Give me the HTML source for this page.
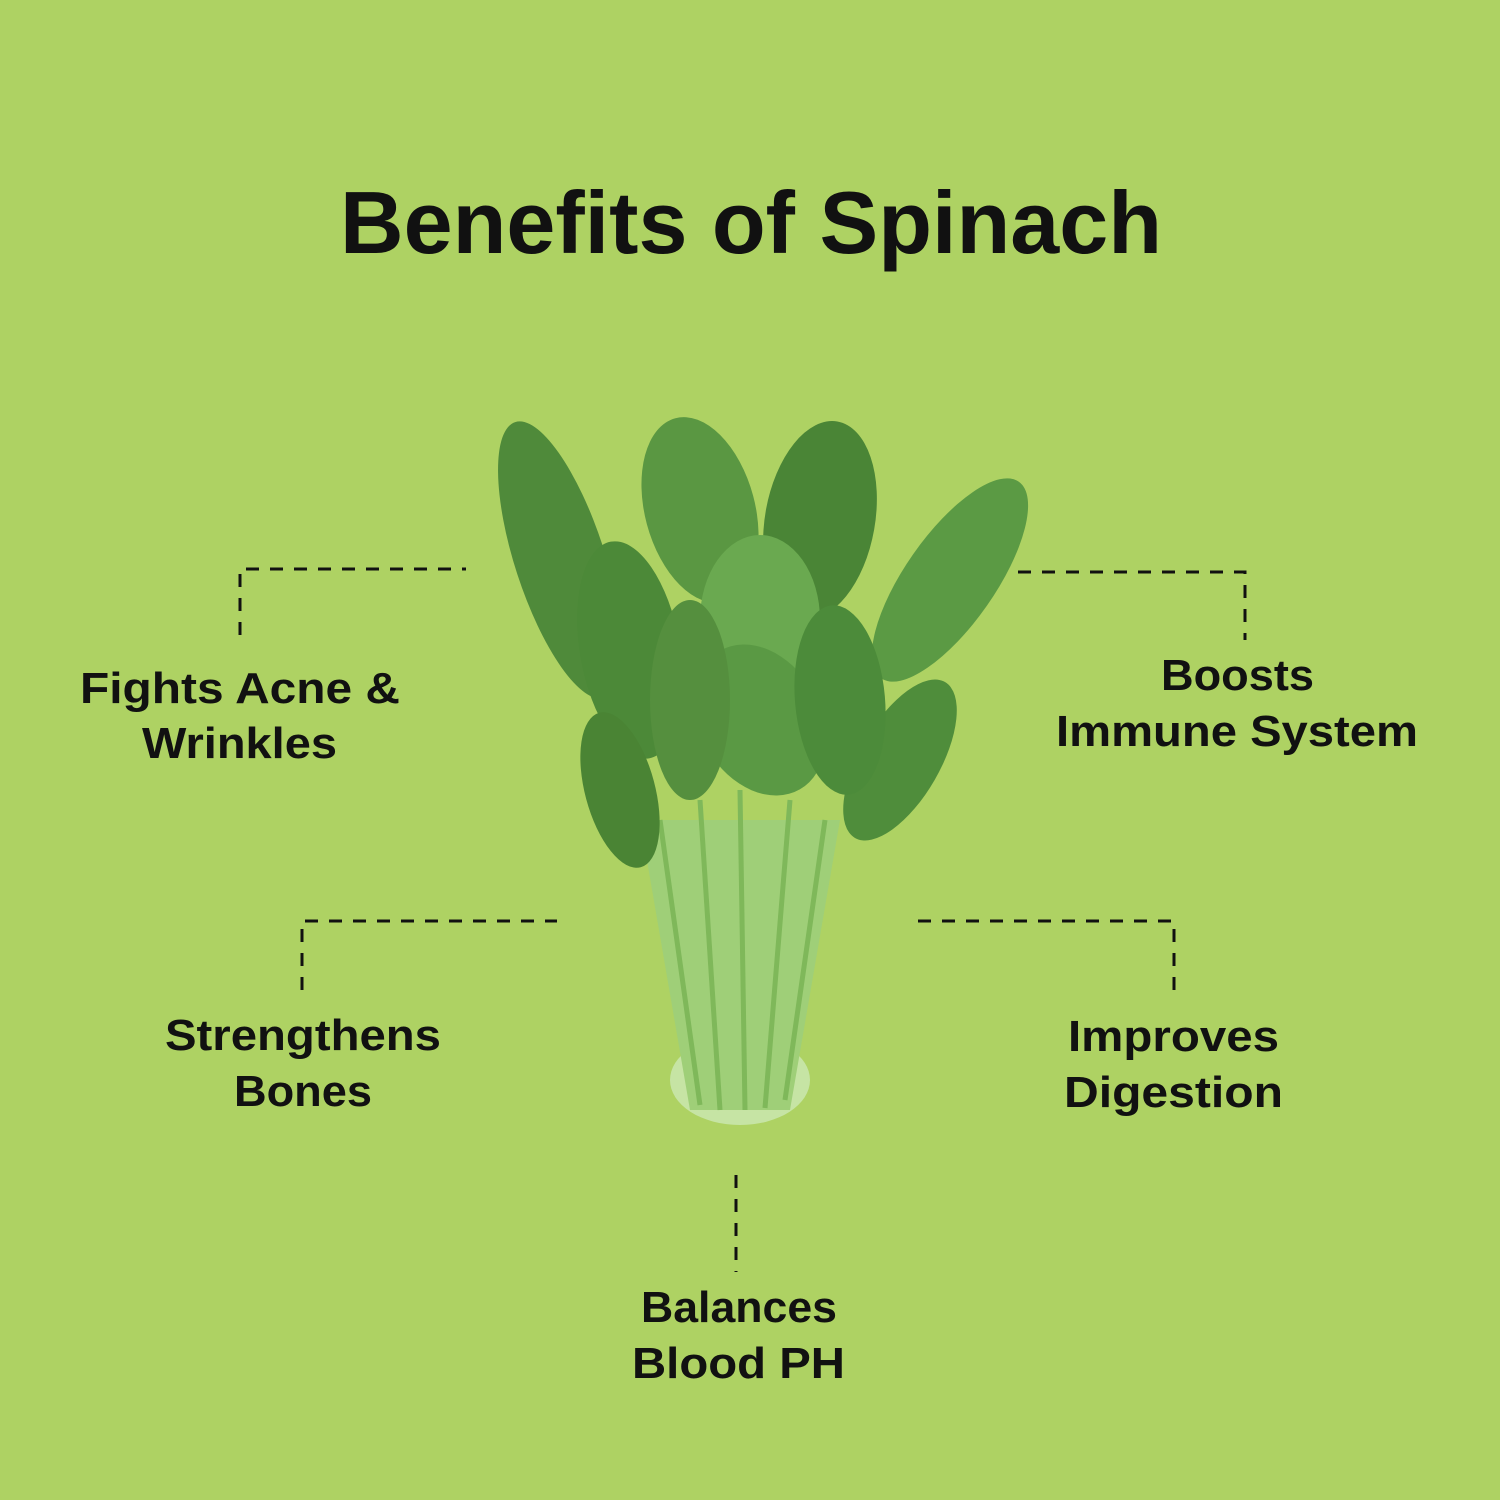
<!DOCTYPE html>
<html><head><meta charset="utf-8"><style>
html,body{margin:0;padding:0;background:#aed263;}
svg{display:block}
text{font-family:"Liberation Sans",sans-serif;font-weight:bold;fill:#111;}
</style></head><body>
<svg width="1500" height="1500" viewBox="0 0 1500 1500" xmlns="http://www.w3.org/2000/svg">
<rect width="1500" height="1500" fill="#aed263"/>
<text x="340" y="253" font-size="88" textLength="822" lengthAdjust="spacingAndGlyphs">Benefits of Spinach</text>

<g fill="none" stroke="#111" stroke-width="3" stroke-dasharray="13 11">
<path d="M240 635 V569 H466"/>
<path d="M1018 572 H1245 V640"/>
<path d="M302 990 V921 H557"/>
<path d="M918 921 H1174 V990"/>
<path d="M736 1175 V1272"/>
</g>

<g font-size="44">
<text x="80" y="703" textLength="320" lengthAdjust="spacingAndGlyphs">Fights Acne &amp;</text>
<text x="142" y="758" textLength="195" lengthAdjust="spacingAndGlyphs">Wrinkles</text>
<text x="1161" y="690" textLength="153" lengthAdjust="spacingAndGlyphs">Boosts</text>
<text x="1056" y="746" textLength="362" lengthAdjust="spacingAndGlyphs">Immune System</text>
<text x="165" y="1050" textLength="276" lengthAdjust="spacingAndGlyphs">Strengthens</text>
<text x="234" y="1106" textLength="138" lengthAdjust="spacingAndGlyphs">Bones</text>
<text x="1068" y="1051" textLength="211" lengthAdjust="spacingAndGlyphs">Improves</text>
<text x="1064" y="1107" textLength="219" lengthAdjust="spacingAndGlyphs">Digestion</text>
<text x="641" y="1322" textLength="196" lengthAdjust="spacingAndGlyphs">Balances</text>
<text x="632" y="1378" textLength="213" lengthAdjust="spacingAndGlyphs">Blood PH</text>
</g>

<!-- spinach -->
<g>
<ellipse cx="740" cy="1080" rx="70" ry="45" fill="#c6e4a4"/>
<path d="M640 820 L690 1110 L790 1110 L840 820 Z" fill="#9fcf78"/>
<g stroke="#7fb85a" stroke-width="5">
<line x1="660" y1="820" x2="700" y2="1105"/><line x1="700" y1="800" x2="720" y2="1110"/>
<line x1="740" y1="790" x2="745" y2="1110"/><line x1="790" y1="800" x2="765" y2="1108"/>
<line x1="825" y1="820" x2="785" y2="1100"/>
</g>
<ellipse cx="560" cy="560" rx="45" ry="145" transform="rotate(-18 560 560)" fill="#4f8a3a"/>
<ellipse cx="950" cy="580" rx="45" ry="120" transform="rotate(35 950 580)" fill="#5b9a44"/>
<ellipse cx="820" cy="520" rx="55" ry="100" transform="rotate(10 820 520)" fill="#4a8536"/>
<ellipse cx="700" cy="510" rx="55" ry="95" transform="rotate(-15 700 510)" fill="#5a9742"/>
<ellipse cx="630" cy="650" rx="50" ry="110" transform="rotate(-10 630 650)" fill="#4c8938"/>
<ellipse cx="900" cy="760" rx="40" ry="90" transform="rotate(30 900 760)" fill="#4f8d3b"/>
<ellipse cx="620" cy="790" rx="35" ry="80" transform="rotate(-15 620 790)" fill="#4a8434"/>
<ellipse cx="760" cy="620" rx="60" ry="85" fill="#6aa950"/>
<ellipse cx="760" cy="720" rx="60" ry="80" transform="rotate(-30 760 720)" fill="#5a9944"/>
<ellipse cx="840" cy="700" rx="45" ry="95" transform="rotate(-5 840 700)" fill="#4c8b3a"/>
<ellipse cx="690" cy="700" rx="40" ry="100" fill="#558f3e"/>
</g>
</svg>
</body></html>
